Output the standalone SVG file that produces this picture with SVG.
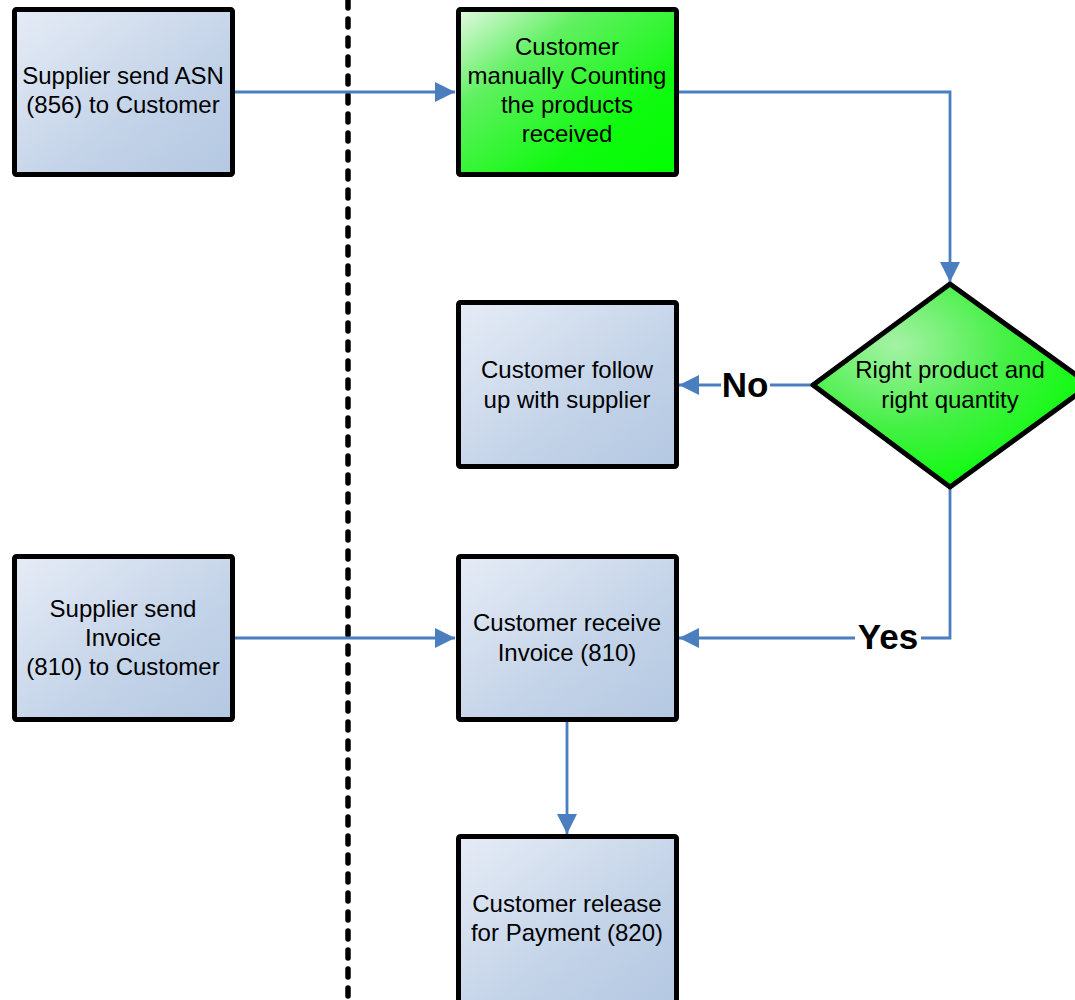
<svg xmlns="http://www.w3.org/2000/svg" width="1075" height="1000" viewBox="0 0 1075 1000">
<style>
.box{stroke:#000;stroke-width:5;stroke-linejoin:round}
.blue{fill:url(#gBlue)}
.green{fill:url(#gGreen)}
.t{font-family:"Liberation Sans",Arial,sans-serif;font-size:24px;fill:#000;text-anchor:middle}
.lbl{font-family:"Liberation Sans",Arial,sans-serif;font-size:35px;font-weight:bold;fill:#000;text-anchor:middle}
.c{fill:none;stroke:#4a7ebf;stroke-width:2.8}
</style>
<defs>
<linearGradient id="gBlue" x1="0" y1="0" x2="1" y2="1">
<stop offset="0" stop-color="#e6ecf6"/>
<stop offset="0.6" stop-color="#c3d3e8"/>
<stop offset="1" stop-color="#b4c8e2"/>
</linearGradient>
<linearGradient id="gGreen" x1="0" y1="0" x2="1" y2="1">
<stop offset="0" stop-color="#e4f8e4"/>
<stop offset="0.3" stop-color="#60f060"/>
<stop offset="0.7" stop-color="#10fa10"/>
<stop offset="1" stop-color="#00ff00"/>
</linearGradient>
<radialGradient id="gDia" cx="0.3" cy="0.3" r="0.8">
<stop offset="0" stop-color="#a6f2a6"/>
<stop offset="0.5" stop-color="#45f045"/>
<stop offset="1" stop-color="#00ff00"/>
</radialGradient>
<marker id="a" viewBox="0 0 20 20" refX="20" refY="10" markerWidth="20" markerHeight="20" orient="auto" markerUnits="userSpaceOnUse">
<path d="M0,0 L20,10 L0,20 Z" fill="#4a7ebf"/>
</marker>
</defs>

<line x1="348" y1="0" x2="348" y2="1000" stroke="#000" stroke-width="5.5" stroke-linecap="round" stroke-dasharray="8 11"/>

<g id="connectors">
<path class="c" d="M234,92 H455" marker-end="url(#a)"/>
<path class="c" d="M678,92 H950 V282" marker-end="url(#a)"/>
<path class="c" d="M812,385 H679" marker-end="url(#a)"/>
<path class="c" d="M950,488 V638 H679" marker-end="url(#a)"/>
<path class="c" d="M234,638 H455" marker-end="url(#a)"/>
<path class="c" d="M567,721 V834" marker-end="url(#a)"/>
<g>
<rect x="721" y="367" width="49" height="36" fill="#fff"/>
<text class="lbl" x="745" y="397">No</text>
</g>
<g>
<rect x="855" y="619" width="66" height="36" fill="#fff"/>
<text class="lbl" x="888" y="649">Yes</text>
</g>
</g>

<g id="n1">
<rect class="box blue" x="14.5" y="9.5" width="218" height="165" rx="2"/>
<text class="t" x="123" y="84">Supplier send ASN</text>
<text class="t" x="123" y="113">(856) to Customer</text>
</g>
<g id="n2">
<rect class="box green" x="458.5" y="9.5" width="218" height="165" rx="2"/>
<text class="t" x="567" y="55">Customer</text>
<text class="t" x="567" y="84">manually Counting</text>
<text class="t" x="567" y="113">the products</text>
<text class="t" x="567" y="142">received</text>
</g>
<g id="n3">
<path class="box" fill="url(#gDia)" d="M950,284 L1090,385 L950,487 L813,385 Z"/>
<text class="t" x="950" y="378">Right product and</text>
<text class="t" x="950" y="408">right quantity</text>
</g>
<g id="n4">
<rect class="box blue" x="458.5" y="302.5" width="218" height="164" rx="2"/>
<text class="t" x="567" y="378">Customer follow</text>
<text class="t" x="567" y="408">up with supplier</text>
</g>
<g id="n5">
<rect class="box blue" x="14.5" y="556.5" width="218" height="163" rx="2"/>
<text class="t" x="123" y="617">Supplier send</text>
<text class="t" x="123" y="646">Invoice</text>
<text class="t" x="123" y="675">(810) to Customer</text>
</g>
<g id="n6">
<rect class="box blue" x="458.5" y="556.5" width="218" height="163" rx="2"/>
<text class="t" x="567" y="631">Customer receive</text>
<text class="t" x="567" y="661">Invoice (810)</text>
</g>
<g id="n7">
<rect class="box blue" x="458.5" y="836.5" width="218" height="166" rx="2"/>
<text class="t" x="567" y="912">Customer release</text>
<text class="t" x="567" y="941">for Payment (820)</text>
</g>
</svg>
